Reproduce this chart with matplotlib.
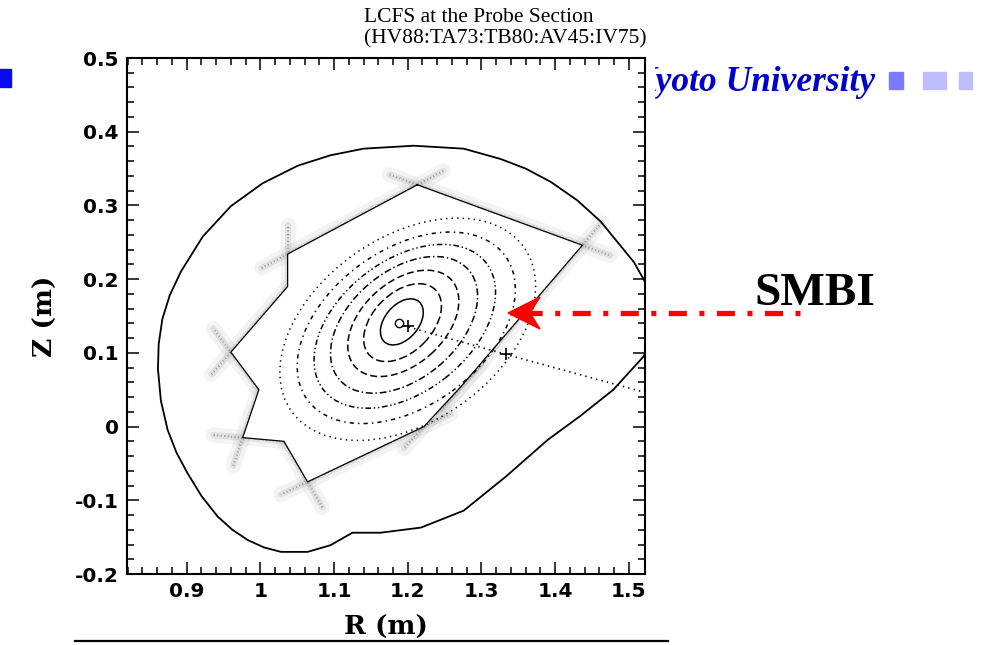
import matplotlib.pyplot as plt
import numpy as np
from matplotlib.patches import Ellipse, Polygon, Rectangle

plt.rcParams['lines.scale_dashes'] = False

# outer boundary (R, Z in m)
wall_r = [1.543, 1.520, 1.507, 1.462, 1.430, 1.394, 1.360, 1.326, 1.276, 1.208, 1.140,
          1.095, 1.051, 1.003, 0.960, 0.922, 0.892, 0.877, 0.867, 0.862, 0.861, 0.865,
          0.874, 0.886, 0.901, 0.920, 0.942, 0.962, 0.983, 1.005, 1.028, 1.064, 1.095,
          1.125, 1.163, 1.218, 1.276, 1.333, 1.390, 1.435, 1.479, 1.520, 1.543]
wall_z = [0.148, 0.200, 0.223, 0.278, 0.307, 0.332, 0.350, 0.363, 0.377, 0.381, 0.377,
          0.368, 0.354, 0.330, 0.299, 0.258, 0.210, 0.178, 0.146, 0.112, 0.078, 0.035,
          -0.004, -0.035, -0.063, -0.094, -0.122, -0.140, -0.154, -0.164, -0.170, -0.170, -0.161,
          -0.144, -0.144, -0.137, -0.114, -0.068, -0.018, 0.015, 0.050, 0.095, 0.148]

# last closed flux surface corners
lcfs_r = [1.213, 1.437, 1.272, 1.222, 1.064, 1.032, 0.976, 0.998, 0.960, 1.037, 1.037]
lcfs_z = [0.328, 0.246, 0.054, 0.000, -0.075, -0.020, -0.015, 0.050, 0.101, 0.190, 0.234]

# nested flux surfaces
ring_r0 = [1.192, 1.193, 1.194, 1.195, 1.196, 1.198, 1.200]
ring_z0 = [0.142, 0.141, 0.140, 0.138, 0.136, 0.134, 0.132]
ring_a = [0.036, 0.063, 0.088, 0.115, 0.140, 0.166, 0.193]
ring_b = [0.023, 0.040, 0.056, 0.073, 0.089, 0.106, 0.125]
ring_tilt = [50, 45, 42, 40, 38, 36, 35]

# probe line and markers
probe_r = [1.194, 1.333, 1.523]
probe_z = [0.137, 0.098, 0.046]
axis_r, axis_z = 1.188, 0.141
plus_r = [1.200, 1.333]
plus_z = [0.136, 0.098]

xticks = [0.9, 1.0, 1.1, 1.2, 1.3, 1.4, 1.5]
xlabels = ['0.9', '1', '1.1', '1.2', '1.3', '1.4', '1.5']
yticks = [-0.2, -0.1, 0, 0.1, 0.2, 0.3, 0.4, 0.5]
ylabels = ['-0.2', '-0.1', '0', '0.1', '0.2', '0.3', '0.4', '0.5']

# slide decorations (pixel coords)
arrow_tail = (800, 313)
arrow_tip = (508, 313)

W, H = 984, 645
fig = plt.figure(figsize=(W / 100, H / 100), dpi=100)

#%% background layer: header of the slide
bg = fig.add_axes([0, 0, 1, 1])
bg.set_xlim(0, W)
bg.set_ylim(H, 0)
bg.axis('off')
bg.set_zorder(0)
bg.text(632, 91, 'Kyoto University', color='#0000CC', fontsize=25.5,
        family='Liberation Serif', weight='bold', style='italic', va='baseline')
bg.add_patch(Rectangle((20, 0), 634, 612, color='white', zorder=3))
bg.add_patch(Rectangle((0, 69), 11, 18, color='#0A0AF0', zorder=3))
bg.add_patch(Rectangle((889, 72), 14, 17, color='#7B7BFF', zorder=3))
bg.add_patch(Rectangle((923, 72), 23, 17, color='#BEBEFF', zorder=3))
bg.add_patch(Rectangle((959, 72), 13, 17, color='#BEBEFF', zorder=3))
bg.text(364, 22, 'LCFS at the Probe Section', fontsize=15.5, family='Liberation Serif',
        va='baseline', zorder=4)
bg.text(364, 43, '(HV88:TA73:TB80:AV45:IV75)', fontsize=15.5, family='Liberation Serif',
        va='baseline', zorder=4)
bg.plot([75, 668], [641, 641], color='black', lw=1.6, zorder=4)

#%% main plot
ax = fig.add_axes([127 / W, (H - 574) / H, 518 / W, 516 / H])
ax.set_zorder(1)
ax.set_xlim(0.819, 1.522)
ax.set_ylim(-0.2, 0.5)

# scattered edge region drawn as soft bands along the corners
pts = np.column_stack([lcfs_r, lcfs_z])
n = len(pts)
for i in range(n):
    p, q = pts[i], pts[(i + 1) % n]
    d = (q - p) / np.hypot(*(q - p))
    prev_d = (p - pts[i - 1]) / np.hypot(*(p - pts[i - 1]))
    nxt = pts[(i + 2) % n]
    next_d = (nxt - q) / np.hypot(*(nxt - q))
    ext0 = 0.04 if np.cross(prev_d, d) < 0 else 0.0
    ext1 = 0.04 if np.cross(d, next_d) < 0 else 0.0
    a0 = p - d * ext0
    a1 = q + d * ext1
    seg_r = [a0[0], a1[0]]
    seg_z = [a0[1], a1[1]]
    ax.plot(seg_r, seg_z, color='0.55', lw=11, alpha=0.10, solid_capstyle='round')
    ax.plot(seg_r, seg_z, color='0.5', lw=4.5, alpha=0.16, solid_capstyle='round')
    ax.plot(seg_r, seg_z, color='0.35', lw=1.6, alpha=0.5, linestyle=(0, (0.7, 1.8)))
ax.fill(lcfs_r, lcfs_z, facecolor='white', edgecolor='none', zorder=2)
ax.plot(lcfs_r + lcfs_r[:1], lcfs_z + lcfs_z[:1], color='black', lw=0.9, zorder=3)

ring_styles = ['-', (0, (6, 2.5)), (0, (5, 2.5)), (0, (5, 2, 1, 2)),
               (0, (4, 2, 1, 2, 1, 2)), (0, (3, 3, 1, 3)), (0, (1, 3))]
for r0, z0, a, b, t, ls in zip(ring_r0, ring_z0, ring_a, ring_b, ring_tilt, ring_styles):
    ax.add_patch(Ellipse((r0, z0), 2 * a, 2 * b, angle=t, fill=False,
                         edgecolor='black', lw=1.1, linestyle=ls, zorder=4))

ax.plot(probe_r, probe_z, color='black', lw=1.2, linestyle=(0, (1, 3)), zorder=4)
ax.plot(plus_r, plus_z, '+', color='black', ms=8, mew=1.2, zorder=5)
ax.plot(axis_r, axis_z, 'o', mfc='none', mec='black', ms=6, mew=1.0, zorder=5)

ax.plot(wall_r, wall_z, color='black', lw=1.3, zorder=4)

ax.set_xticks(xticks)
ax.set_xticklabels(xlabels)
ax.set_yticks(yticks)
ax.set_yticklabels(ylabels)
ax.set_xticks(np.arange(0.82, 1.52, 0.02), minor=True)
ax.set_yticks(np.arange(-0.2, 0.5, 0.02), minor=True)
ax.tick_params(which='both', direction='in', top=True, right=True, width=1.1)
ax.tick_params(which='major', length=8.5, labelsize=14.5, pad=6)
ax.tick_params(which='minor', length=5)
for lab in ax.get_xticklabels() + ax.get_yticklabels():
    lab.set_fontweight('bold')
    lab.set_family('DejaVu Sans')
for s in ax.spines.values():
    s.set_linewidth(1.5)
ax.set_xlabel('R (m)', fontsize=19, family='DejaVu Serif', weight='bold', labelpad=10)
ax.set_ylabel('Z (m)', fontsize=19, family='DejaVu Serif', weight='bold', labelpad=12)

#%% foreground layer: SMBI arrow
fg = fig.add_axes([0, 0, 1, 1])
fg.set_xlim(0, W)
fg.set_ylim(H, 0)
fg.axis('off')
fg.set_zorder(2)
fg.patch.set_alpha(0)
fg.plot([arrow_tail[0], arrow_tip[0] + 22], [arrow_tail[1], arrow_tip[1]], color='red',
        lw=3.8, linestyle=(0, (3.6, 9, 13, 9)), solid_capstyle='butt')
tx, ty = arrow_tip
fg.add_patch(Polygon([(tx, ty), (tx + 32, ty - 16), (tx + 22, ty), (tx + 32, ty + 16)],
                     closed=True, color='red'))
fg.text(754, 305, 'SMBI', fontsize=34, family='Liberation Serif', weight='bold',
        va='baseline')

fig.savefig('out.png', dpi=100)
